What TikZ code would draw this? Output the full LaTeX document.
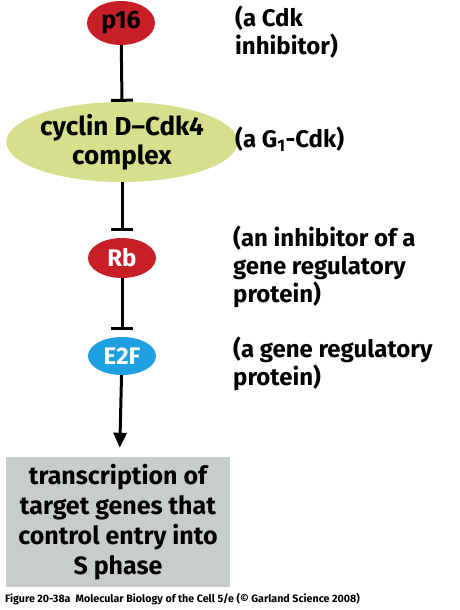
\documentclass[tikz,border=0pt]{standalone}
\usepackage{fontspec}
\setmainfont{Fira Sans}
\usepackage{tikz}
\usetikzlibrary{arrows.meta,positioning,shapes.geometric}
\definecolor{molred}{RGB}{200,30,40}
\definecolor{cycgreen}{RGB}{214,224,140}
\definecolor{e2fblue}{RGB}{30,160,225}
\definecolor{boxgrey}{RGB}{200,205,202}

\begin{document}
\begin{tikzpicture}[x=1pt,y=-1pt,
  prot/.style={ellipse,inner sep=0pt,font=\fontsize{24}{28}\selectfont\bfseries},
  note/.style={anchor=north west,align=left,inner sep=0pt,font=\fontsize{24}{28}\selectfont\bfseries},
  inhib/.style={line width=3pt,-{Bar[width=22pt,line width=3pt]}},
  act/.style={line width=3pt,-{Triangle[width=13pt,length=15pt]}}]
\useasboundingbox (0,0) rectangle (459,610);
% proteins
\node[prot,fill=molred,minimum width=68,minimum height=44,
  font=\fontsize{25}{28}\selectfont\bfseries] (p16) at (121,23) {p16};
\node[prot,fill=cycgreen,minimum width=212,minimum height=80,align=center,
  font=\fontsize{26}{29}\selectfont\bfseries] (cdk) at (122,142) {cyclin D–Cdk4\\complex};
\node[prot,fill=molred,text=white,minimum width=68,minimum height=40] (rb) at (122,258) {Rb};
\node[prot,fill=e2fblue,text=white,minimum width=68,minimum height=38] (e2f) at (122,356) {E2F};
\node[fill=boxgrey,minimum width=224,minimum height=130,inner sep=0pt,align=center,
  font=\fontsize{25}{30}\selectfont\bfseries] (trans) at (118,522)
  {transcription of\\target genes that\\control entry into\\S phase};
% connectors
\draw[inhib] (p16) -- (cdk.north);
\draw[inhib,shorten >=7pt] (cdk) -- (rb);
\draw[inhib,shorten >=7pt] (rb) -- (e2f);
\draw[act,shorten >=9pt] (e2f) -- (trans);
% notes
\node[note] (np16) at (235,6) {(a Cdk\\inhibitor)};
\node[note] (ncdk) at (235,127) {(a G\textsubscript{1}-Cdk)};
\node[note] (nrb) at (233,226) {(an inhibitor of a\\gene regulatory\\protein)};
\node[note] (ne2f) at (233,337) {(a gene regulatory\\protein)};
\node[anchor=west,inner sep=0pt,font=\fontsize{10.7}{12}\selectfont\bfseries] (cap) at (5,599)
  {Figure 20-38a\ \ Molecular Biology of the Cell 5/e (© Garland Science 2008)};
\end{tikzpicture}
\end{document}
